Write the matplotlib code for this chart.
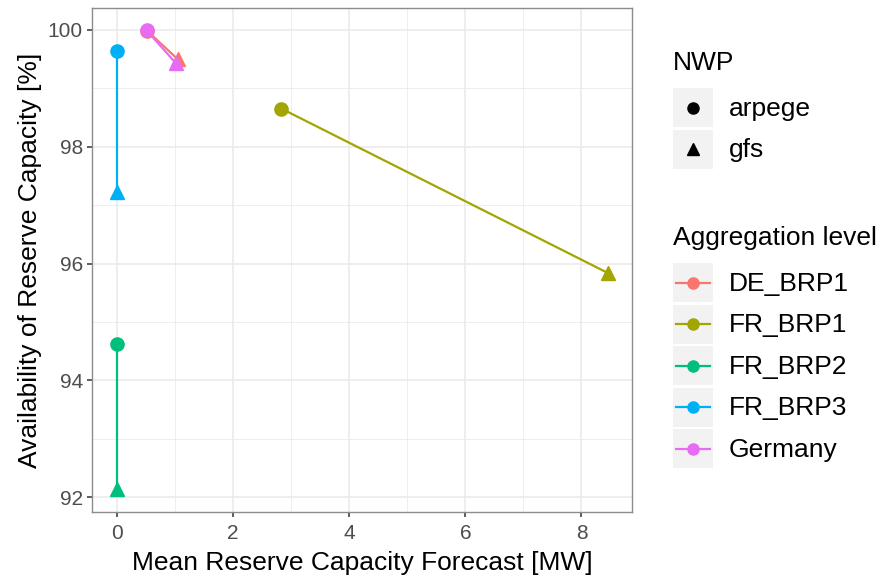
import matplotlib
matplotlib.use("Agg")
import matplotlib.pyplot as plt
from matplotlib.patches import Rectangle
from matplotlib.lines import Line2D

plt.rcParams['font.family'] = ['Liberation Sans', 'DejaVu Sans']

# data
groups = ["DE_BRP1", "FR_BRP1", "FR_BRP2", "FR_BRP3", "Germany"]
colors = ["#F8766D", "#A3A500", "#00BF7D", "#00B0F6", "#E76BF3"]
nwp = ["arpege", "gfs"]
nwp_markers = ["o", "^"]
mean_forecast = {
    "DE_BRP1": [0.52, 1.05],
    "FR_BRP1": [2.83, 8.45],
    "FR_BRP2": [0.0, 0.0],
    "FR_BRP3": [0.0, 0.0],
    "Germany": [0.51, 1.01],
}
availability = {
    "DE_BRP1": [99.98, 99.49],
    "FR_BRP1": [98.65, 95.84],
    "FR_BRP2": [94.63, 92.14],
    "FR_BRP3": [99.64, 97.22],
    "Germany": [99.99, 99.43],
}

W, H = 884, 581
fig = plt.figure(figsize=(W / 100, H / 100), dpi=100)
ax = fig.add_axes([92 / W, 1 - 512 / H, (632 - 92) / W, (512 - 8) / H])

for g, c in zip(groups, colors):
    xs, ys = mean_forecast[g], availability[g]
    ax.plot(xs, ys, color=c, lw=1.6, zorder=3)
    for x, y, m in zip(xs, ys, nwp_markers):
        ax.plot(x, y, marker=m, color=c, markersize=9.5, ls="none", zorder=4)

ax.set_xlim(-0.43, 8.87)
ax.set_ylim(91.75, 100.37)
ax.set_xticks([0, 2, 4, 6, 8])
ax.set_yticks([92, 94, 96, 98, 100])
ax.set_xticks([1, 3, 5, 7], minor=True)
ax.set_yticks([93, 95, 97, 99], minor=True)
ax.grid(which="major", color="#EBEBEB", lw=1.2, zorder=0)
ax.grid(which="minor", color="#EBEBEB", lw=0.6, zorder=0)
ax.set_axisbelow(True)
for s in ax.spines.values():
    s.set_color("#8C8C8C")
    s.set_linewidth(1.0)
ax.tick_params(which="major", length=3.5, width=1.1, color="#333333", labelsize=15,
               labelcolor="#4D4D4D", pad=3)
ax.tick_params(axis="x", which="major", pad=5)
ax.tick_params(which="minor", length=0)
ax.set_xlabel("Mean Reserve Capacity Forecast [MW]", fontsize=19, labelpad=6)
ax.set_ylabel("Availability of Reserve Capacity [%]", fontsize=19, labelpad=4)


def fx(px):
    return px / W


def fy(py):
    return 1 - py / H


# NWP legend
fig.text(fx(673), fy(63), "NWP", fontsize=19, va="center", ha="left")
for i, (lab, m) in enumerate(zip(nwp, nwp_markers)):
    top = 88 + i * 41.5
    fig.patches.append(Rectangle((fx(673), fy(top + 39)), 40 / W, 39 / H,
                                 transform=fig.transFigure, color="#F2F2F2", lw=0))
    fig.lines.append(Line2D([fx(693)], [fy(top + 19.5)], marker=m, color="black",
                            markersize=8, transform=fig.transFigure))
    fig.text(fx(729), fy(top + 21), lab, fontsize=19, va="center", ha="left")

# Aggregation level legend
fig.text(fx(673), fy(238), "Aggregation level", fontsize=19, va="center", ha="left")
for i, (g, c) in enumerate(zip(groups, colors)):
    top = 263 + i * 41.6
    fig.patches.append(Rectangle((fx(673), fy(top + 39)), 40 / W, 39 / H,
                                 transform=fig.transFigure, color="#F2F2F2", lw=0))
    cy = fy(top + 19.5)
    fig.lines.append(Line2D([fx(676), fx(710)], [cy, cy], color=c, lw=1.6,
                            transform=fig.transFigure))
    fig.lines.append(Line2D([fx(693)], [cy], marker="o", color=c, markersize=8,
                            transform=fig.transFigure))
    fig.text(fx(729), fy(top + 20.5), g, fontsize=19, va="center", ha="left")

fig.savefig("out.png", dpi=100)
